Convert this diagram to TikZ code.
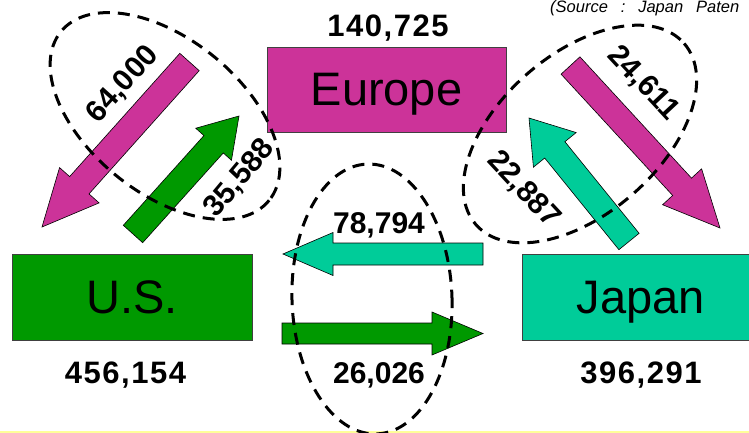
\documentclass[tikz,border=0pt]{standalone}
\usepackage{fontspec}
\setmainfont{Liberation Sans}
\usetikzlibrary{calc}
\definecolor{mag}{HTML}{CC3399}
\definecolor{grn}{HTML}{009900}
\definecolor{tealg}{HTML}{00CC99}
\definecolor{paleyel}{HTML}{FFFF99}
\tikzset{
  box/.style={draw=black!75, line width=0.8pt, inner sep=0pt, text depth=0pt, font=\fontsize{47}{47}\selectfont},
  num/.style={inner sep=0pt, font=\fontsize{30}{30}\selectfont\bfseries},
  total/.style={inner sep=0pt, font=\fontsize{31}{31}\selectfont\bfseries\addfontfeature{LetterSpace=5}},
  ring/.style={draw=black, line width=3pt, dash pattern=on 12pt off 8pt},
  arrowline/.style={draw=black, line width=0.6pt, line join=miter},
}
% #1 fill, #2 tail, #3 tip, #4 shaft half width, #5 head half width, #6 head length
\newcommand\blockarrow[6]{%
  \coordinate (hb) at ($(#3)!#6!(#2)$);
  \draw[arrowline, fill=#1]
    ($(#2)!#4!90:(#3)$) -- ($(hb)!#4!90:(#3)$) -- ($(hb)!#5!90:(#3)$) -- (#3)
    -- ($(hb)!#5!-90:(#3)$) -- ($(hb)!#4!-90:(#3)$) -- ($(#2)!#4!-90:(#3)$) -- cycle;
}
\newcommand\wsp{\hspace*{0.78em}}
\begin{document}
\begin{tikzpicture}[x=1pt, y=-1pt]
\useasboundingbox (0,0) rectangle (749,433);
\fill[white] (0,0) rectangle (749,433);
\draw[paleyel, line width=2pt] (0,432) -- (749,432);

% boxes
\node[box, fill=mag, minimum width=239pt, minimum height=85pt] (eu) at (386.5,89.5) {Europe};
\node[box, fill=grn, minimum width=240pt, minimum height=86pt] (us) at (132,297) {U.S.};
\node[box, fill=tealg, minimum width=238pt, minimum height=86pt] (jp) at (641,297) {Japan};

% arrow end points
\coordinate (a1t) at (189.5,62);  \coordinate (a1h) at (42,227);
\coordinate (a2t) at (133,234);   \coordinate (a2h) at (239,116);
\coordinate (a3t) at (629,241.5); \coordinate (a3h) at (529,118);
\coordinate (a4t) at (570.5,65.5);\coordinate (a4h) at (720,228);
\coordinate (a5t) at (483,254);   \coordinate (a5h) at (283,254);
\coordinate (a6t) at (282,333.5); \coordinate (a6h) at (483,333.5);

\blockarrow{mag}{a1t}{a1h}{13pt}{26.5pt}{56pt}
\blockarrow{grn}{a2t}{a2h}{13pt}{24pt}{38pt}
\blockarrow{tealg}{a3t}{a3h}{13pt}{27.5pt}{41pt}
\blockarrow{mag}{a4t}{a4h}{12.8pt}{26.5pt}{56pt}
\blockarrow{tealg}{a5t}{a5h}{11pt}{21.5pt}{50pt}
\blockarrow{grn}{a6t}{a6h}{10.5pt}{21.5pt}{51pt}

% dashed rings
\draw[ring, rotate around={-39:(165,116)}] (165,116) ellipse [x radius=134, y radius=77];
\draw[ring, rotate around={41:(580,134)}] (580,134) ellipse [x radius=138, y radius=80];
\draw[ring, rotate around={2:(372,299)}] (372,299) ellipse [x radius=80, y radius=135];

% numbers
\node[total, anchor=base] (teu) at (388,37) {140,725};
\node[total, anchor=base] (tus) at (125.5,383) {456,154};
\node[total, anchor=base] (tjp) at (641,383) {396,291};
\node[num, anchor=base] (n5) at (379,233) {78,794};
\node[num, anchor=base] (n6) at (379,383) {26,026};
\node[num, text depth=0pt, rotate=48] (n1) at (121,83) {64,000};
\node[num, text depth=0pt, rotate=50] (n2) at (238,177) {35,588};
\node[num, text depth=0pt, rotate=-47] (n4) at (645,82) {24,611};
\node[num, text depth=0pt, rotate=-47] (n3) at (525,188) {22,887};

\node[anchor=base west, inner sep=0pt, font=\fontsize{16.5}{16.5}\selectfont\itshape] (src) at (550,13) {(Source\wsp:\wsp Japan\wsp Paten};
\end{tikzpicture}
\end{document}
